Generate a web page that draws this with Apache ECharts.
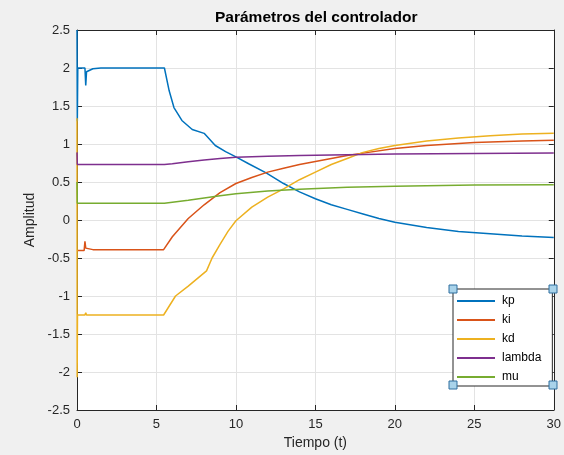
<!DOCTYPE html>
<html><head><meta charset="utf-8">
<script src="https://cdn.jsdelivr.net/npm/echarts@6/dist/echarts.min.js"></script>
<style>html,body{margin:0;padding:0;background:#f0f0f0}#c{width:564px;height:455px}</style>
</head><body><div id="c"></div>
<script>
const chartTitle = 'Parámetros del controlador';
const xName = 'Tiempo (t)';
const yName = 'Amplitud';
const seriesNames = ['kp', 'ki', 'kd', 'lambda', 'mu'];
const xTicks = [0, 5, 10, 15, 20, 25, 30];
const yTicks = [-2.5, -2, -1.5, -1, -0.5, 0, 0.5, 1, 1.5, 2, 2.5];

const tKp = [0, 0.02, 0.05, 0.5, 0.55, 0.6, 1.0, 1.5, 5.5, 5.8, 6.1, 6.6, 7.25, 8.0, 8.7, 9.35, 10.0, 10.8, 11.9, 13, 14, 15, 16, 17, 18, 19, 20, 22, 24, 26, 28, 30];
const vKp = [2.5, 1.3, 2.0, 2.0, 1.77, 1.95, 1.99, 2.0, 2.0, 1.70, 1.48, 1.31, 1.19, 1.14, 0.98, 0.90, 0.83, 0.74, 0.62, 0.48, 0.37, 0.28, 0.2, 0.14, 0.08, 0.02, -0.03, -0.10, -0.15, -0.18, -0.21, -0.23];

const tKi = [0, 0.45, 0.5, 0.55, 1.0, 5.45, 6, 7, 8, 9, 10, 11, 12, 13, 14, 15, 16, 17, 18, 20, 22, 25, 28, 30];
const vKi = [-0.4, -0.4, -0.28, -0.37, -0.39, -0.39, -0.22, 0.02, 0.2, 0.36, 0.48, 0.56, 0.63, 0.68, 0.73, 0.77, 0.81, 0.85, 0.88, 0.94, 0.98, 1.02, 1.04, 1.05];

const tKd = [0, 0.01, 0.03, 0.5, 0.55, 0.6, 5.45, 6.2, 7, 8.15, 8.5, 9, 9.5, 10, 11, 12, 13, 14, 15, 16, 17, 18, 19, 20, 22, 24, 26, 28, 30];
const vKd = [1.34, -2.07, -1.25, -1.25, -1.22, -1.25, -1.25, -1.0, -0.87, -0.67, -0.5, -0.32, -0.15, -0.01, 0.17, 0.30, 0.41, 0.53, 0.63, 0.73, 0.81, 0.89, 0.94, 0.98, 1.04, 1.08, 1.11, 1.13, 1.14];

const tLambda = [0, 0.02, 5.5, 6, 7, 8, 9, 10, 12, 14, 17, 20, 25, 30];
const vLambda = [0.89, 0.73, 0.73, 0.74, 0.765, 0.79, 0.81, 0.825, 0.84, 0.85, 0.86, 0.87, 0.875, 0.88];

const tMu = [0, 0.02, 5.5, 6, 7, 8, 9, 10, 12, 14, 17, 20, 25, 30];
const vMu = [0.5, 0.22, 0.22, 0.235, 0.26, 0.29, 0.32, 0.345, 0.38, 0.405, 0.43, 0.445, 0.46, 0.465];

const colors = ['#0072BD', '#D95319', '#EDB120', '#7E2F8E', '#77AC30'];
const tData = [tKp, tKi, tKd, tLambda, tMu];
const vData = [vKp, vKi, vKd, vLambda, vMu];

const zip = (t, v) => t.map((x, i) => [x, v[i]]);
const FONT = '"Liberation Sans", Arial, Helvetica, sans-serif';
const AX = '#262626';

const chart = echarts.init(document.getElementById('c'), null, {renderer: 'canvas'});

const baseX = {
  type: 'value', min: xTicks[0], max: xTicks[xTicks.length - 1], interval: 5,
  axisLine: {show: true, onZero: false, lineStyle: {color: AX, width: 1}},
  axisTick: {show: true, inside: true, length: 5, lineStyle: {color: AX}},
  splitLine: {show: false}
};
const baseY = {
  type: 'value', min: yTicks[0], max: yTicks[yTicks.length - 1], interval: 0.5,
  axisLine: {show: true, onZero: false, lineStyle: {color: AX, width: 1}},
  axisTick: {show: true, inside: true, length: 5, lineStyle: {color: AX}},
  splitLine: {show: false}
};

chart.setOption({
  backgroundColor: '#f0f0f0',
  animation: false,
  color: colors,
  title: {
    text: chartTitle, left: 210, top: 5,
    textStyle: {fontFamily: FONT, fontSize: 15.5, fontWeight: 'bold', color: '#000'}
  },
  grid: {left: 77, right: 7, top: 30, bottom: 44, show: true, backgroundColor: '#ffffff', borderWidth: 0},
  xAxis: [
    Object.assign({}, baseX, {
      position: 'bottom',
      name: xName, nameLocation: 'middle', nameGap: 26,
      nameTextStyle: {fontFamily: FONT, fontSize: 14, color: AX},
      axisLabel: {show: true, fontFamily: FONT, fontSize: 13, color: AX, margin: 8, showMaxLabel: true, showMinLabel: true,
        formatter: v => String(v)},
      splitLine: {show: true, lineStyle: {color: '#e3e3e3', width: 1}}
    }),
    Object.assign({}, baseX, {position: 'top', axisLabel: {show: false}})
  ],
  yAxis: [
    Object.assign({}, baseY, {
      position: 'left',
      name: yName, nameLocation: 'middle', nameGap: 40,
      nameTextStyle: {fontFamily: FONT, fontSize: 14, color: AX},
      axisLabel: {show: true, fontFamily: FONT, fontSize: 13, color: AX, margin: 7, showMaxLabel: true, showMinLabel: true,
        formatter: v => String(v)},
      splitLine: {show: true, lineStyle: {color: '#e3e3e3', width: 1}}
    }),
    Object.assign({}, baseY, {position: 'right', axisLabel: {show: false}})
  ],
  legend: {
    orient: 'vertical', left: 453, top: 289,
    data: seriesNames,
    icon: 'rect', itemWidth: 38, itemHeight: 2, itemGap: 5,
    padding: [5, 11, 2, 4],
    backgroundColor: '#ffffff', borderColor: AX, borderWidth: 1, borderRadius: 0,
    textStyle: {fontFamily: FONT, fontSize: 12, color: '#000', lineHeight: 14, padding: [0, 0, 0, 2]}
  },
  series: seriesNames.map((n, i) => ({
    name: n, type: 'line', xAxisIndex: 0, yAxisIndex: 0,
    data: zip(tData[i], vData[i]),
    showSymbol: false, symbol: 'none', smooth: false, clip: true,
    lineStyle: {color: colors[i], width: 1.5},
    itemStyle: {color: colors[i]}
  })),
  graphic: [[453, 289], [553, 289], [453, 385], [553, 385]].map(p => ({
    type: 'rect', z: 100,
    shape: {x: p[0] - 4, y: p[1] - 4, width: 8, height: 8},
    style: {fill: '#a9d3ea', stroke: '#2f6f9f', lineWidth: 1}
  }))
});
</script></body></html>
